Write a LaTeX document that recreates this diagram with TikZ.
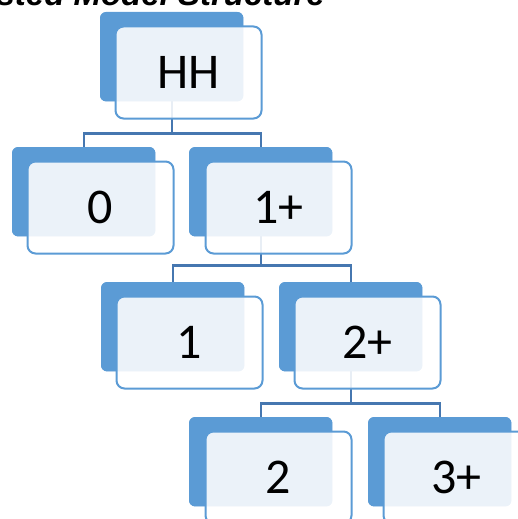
\documentclass[tikz,border=0pt]{standalone}
\usepackage{fontspec}
\setmainfont{Carlito}
\newfontfamily\headfont{Liberation Sans}
\definecolor{boxblue}{HTML}{5B9BD5}
\definecolor{linkblue}{HTML}{4677B0}
\tikzset{
  backbox/.style={rectangle, rounded corners=6pt, fill=boxblue, inner sep=0pt,
    minimum width=143pt, minimum height=89pt, anchor=north west},
  frontbox/.style={rectangle, rounded corners=8pt, fill=white, fill opacity=0.88,
    text opacity=1, draw=boxblue, draw opacity=1, line width=2pt, inner sep=0pt,
    minimum width=146pt, minimum height=92pt, anchor=north west,
    font=\fontsize{50}{60}\selectfont},
  link/.style={draw=linkblue, line width=2.2pt},
  heading/.style={font=\headfont\bfseries\itshape\fontsize{33}{40}\selectfont,
    inner sep=0pt, anchor=base east}
}
\begin{document}
\begin{tikzpicture}[x=1pt,y=-1pt]
\useasboundingbox (0,0) rectangle (518,519);
\clip (0,0) rectangle (518,519);

% heading, mostly above the top edge
\node[heading] (title) at (325,5.5) {Nested Model Structure};

% back plates
\node[backbox] (hhb)  at (100,12)  {};
\node[backbox] (n0b)  at (12,147)  {};
\node[backbox] (n1pb) at (189,147) {};
\node[backbox] (n1b)  at (101,282) {};
\node[backbox] (n2pb) at (279,282) {};
\node[backbox] (n2b)  at (189,417) {};
\node[backbox] (n3pb) at (368,417) {};

% tree connectors
\path (hhb.south) -- ++(0,32) coordinate (bus1);
\path (n1pb.south) -- ++(0,29) coordinate (bus2);
\path (n2pb.south) -- ++(0,32) coordinate (bus3);
\draw[link] (hhb.center) -- (bus1);
\draw[link] (bus1) -| (n0b.north);
\draw[link] (bus1) -| (n1pb.north);
\draw[link] (n1pb.center) -- (bus2);
\draw[link] (bus2) -| (n1b.north);
\draw[link] (bus2) -| (n2pb.north);
\draw[link] (n2pb.center) -- (bus3);
\draw[link] (bus3) -| (n2b.north);
\draw[link] (bus3) -| (n3pb.north);

% back plates again so the links start at their lower edges
\foreach \b in {hhb,n0b,n1pb,n1b,n2pb,n2b,n3pb}
  \fill[boxblue, rounded corners=6pt] (\b.north west) rectangle (\b.south east);

% labelled front cards
\node[frontbox] (hh)  at (114.5,25.5)  {HH};
\node[frontbox] (n0)  at (26.5,160.5)  {0};
\node[frontbox] (n1p) at (204.5,160.5) {1+};
\node[frontbox] (n1)  at (115.5,295.5) {1};
\node[frontbox] (n2p) at (293.5,295.5) {2+};
\node[frontbox] (n2)  at (204.5,430.5) {2};
\node[frontbox] (n3p) at (382.5,430.5) {3+};
\end{tikzpicture}
\end{document}
